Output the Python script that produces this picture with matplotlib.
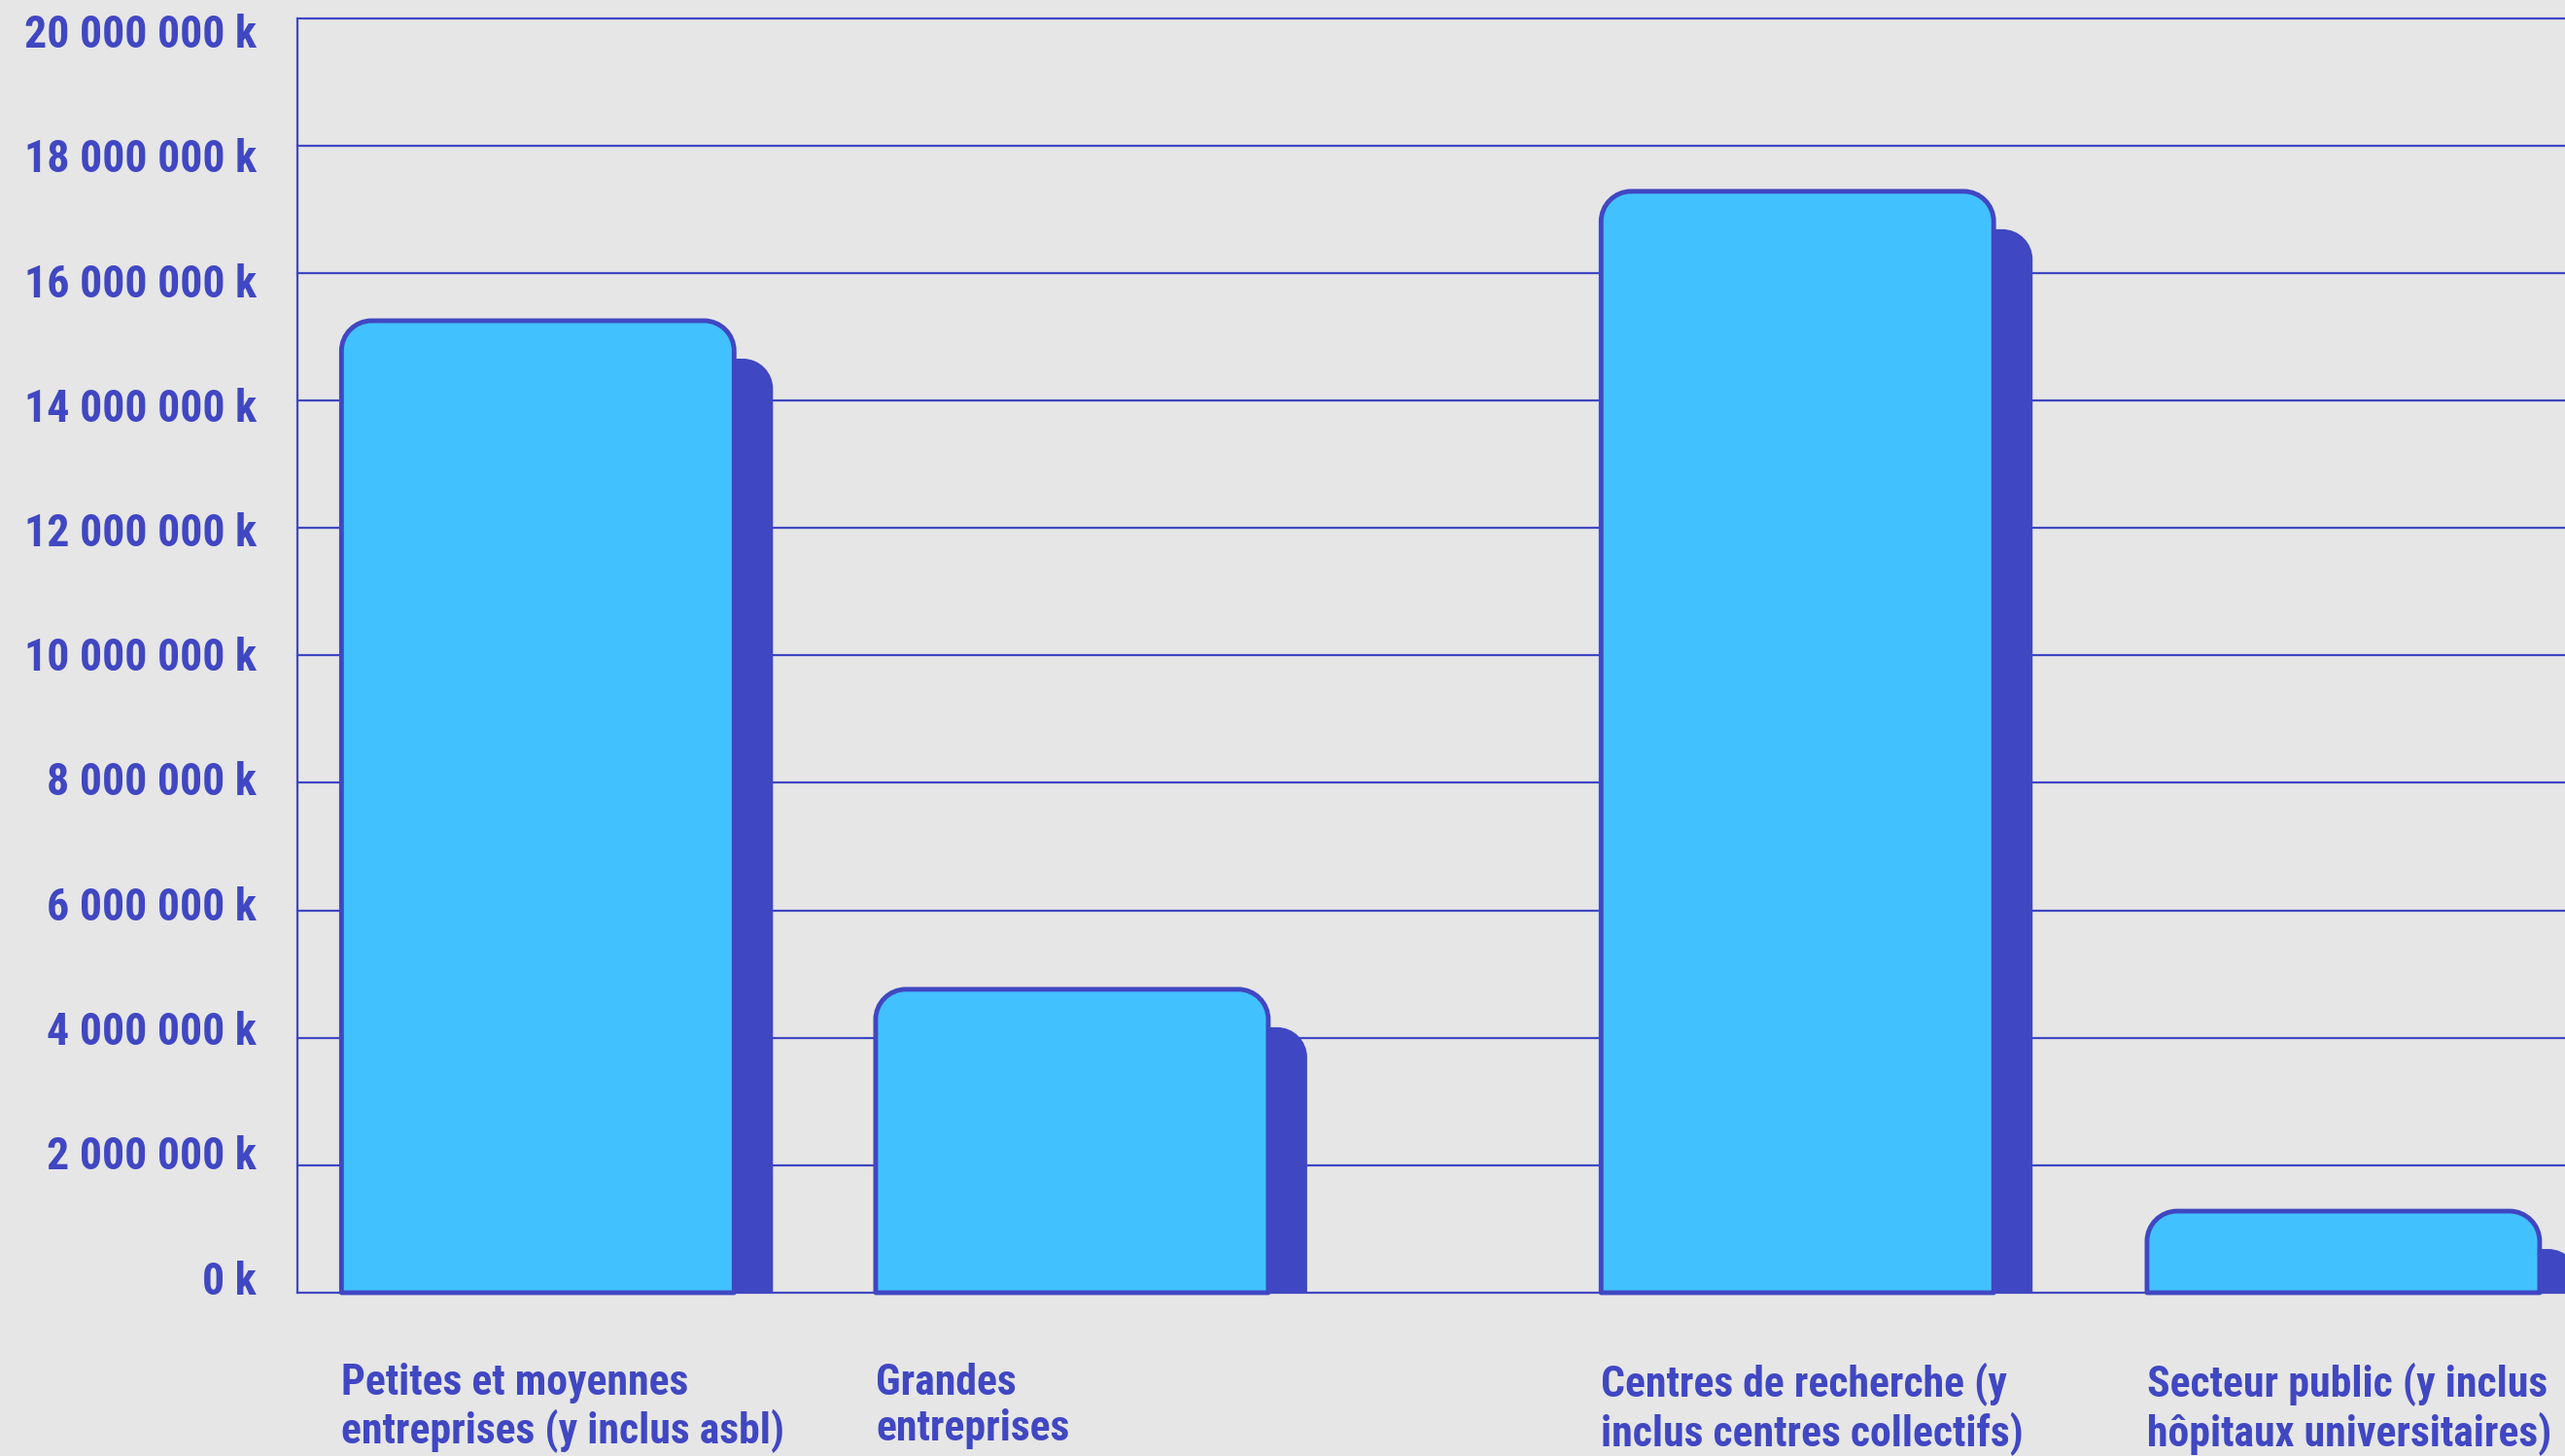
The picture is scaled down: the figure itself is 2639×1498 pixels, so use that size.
import matplotlib
matplotlib.use("Agg")
import matplotlib.pyplot as plt
from matplotlib.path import Path
from matplotlib.patches import PathPatch
from matplotlib.ticker import FixedLocator, NullFormatter
import matplotlib.transforms as mtransforms

# ---- data ----
categories = [
    "Petites et moyennes\nentreprises (y inclus asbl)",
    "Grandes\nentreprises",
    "Centres de recherche (y\ninclus centres collectifs)",
    "Secteur public (y inclus\nhôpitaux universitaires)",
]
values = [15250000, 4760000, 17280000, 1280000]
y_ticks = [0, 2000000, 4000000, 6000000, 8000000, 10000000,
           12000000, 14000000, 16000000, 18000000, 20000000]

# ---- layout / style ----
x_pos = [0.0, 1.0, 2.358, 3.38]
bar_w = 0.735
BG = "#E6E6E6"
FILL = "#42C1FF"
DARK = "#4047C2"
FONT = ["Roboto Condensed", "DejaVu Sans"]

W, H, DPI = 2639, 1498, 100
fig = plt.figure(figsize=(W / DPI, H / DPI), dpi=DPI, facecolor=BG)
ax = fig.add_axes([306 / W, 1 - 1330 / H, 1 - 306 / W, (1330 - 18.5) / H])
ax.set_facecolor(BG)
ax.set_xlim(-0.45, 3.795)
ax.set_ylim(0, 20000000)

for s in ["top", "right", "bottom"]:
    ax.spines[s].set_visible(False)
ax.spines["left"].set_color(DARK)
ax.spines["left"].set_linewidth(1.6)

ax.yaxis.set_major_locator(FixedLocator(y_ticks))
ax.yaxis.set_major_formatter(NullFormatter())
ax.tick_params(axis="both", length=0, labelbottom=False)
ax.grid(axis="y", color=DARK, linewidth=1.6, zorder=0)
ax.set_axisbelow(True)
for gl in ax.get_ygridlines():
    gl.set_clip_on(False)

# pixel -> data conversions
bbox = ax.get_position()
ax_w_px = bbox.width * W
ax_h_px = bbox.height * H
px_x = (ax.get_xlim()[1] - ax.get_xlim()[0]) / ax_w_px
px_y = (ax.get_ylim()[1] - ax.get_ylim()[0]) / ax_h_px


def fmt(v):
    return "{:,}".format(int(round(v))).replace(",", " ") + " k"


# y tick labels (slightly compressed toward the middle, as in the original)
ytrans = mtransforms.blended_transform_factory(ax.transAxes, ax.transData)
ymid = (y_ticks[0] + y_ticks[-1]) / 2.0
for v in y_ticks:
    off_px = -3 - 14.5 * (v - ymid) / ymid
    ax.text(-42 / ax_w_px, v + off_px * px_y, fmt(v), transform=ytrans,
            ha="right", va="center", fontsize=33, fontweight="bold",
            color=DARK, family=FONT, clip_on=False)

R_PX = 31
SH_DX, SH_DY = 40, 39


def top_rounded(x0, x1, y0, y1, rx, ry):
    ry = min(ry, (y1 - y0))
    k = 0.5523
    verts = [
        (x0, y0), (x0, y1 - ry),
        (x0, y1 - ry + k * ry), (x0 + rx - k * rx, y1), (x0 + rx, y1),
        (x1 - rx, y1),
        (x1 - rx + k * rx, y1), (x1, y1 - ry + k * ry), (x1, y1 - ry),
        (x1, y0), (x0, y0),
    ]
    codes = [Path.MOVETO, Path.LINETO,
             Path.CURVE4, Path.CURVE4, Path.CURVE4,
             Path.LINETO,
             Path.CURVE4, Path.CURVE4, Path.CURVE4,
             Path.LINETO, Path.CLOSEPOLY]
    return Path(verts, codes)


rx = R_PX * px_x
ry = R_PX * px_y
for xc, v in zip(x_pos, values):
    x0, x1 = xc - bar_w / 2, xc + bar_w / 2
    sh = PathPatch(top_rounded(x0 + SH_DX * px_x, x1 + SH_DX * px_x, 0,
                               v - SH_DY * px_y, rx, ry),
                   facecolor=DARK, edgecolor="none", zorder=2)
    ax.add_patch(sh)
    bar = PathPatch(top_rounded(x0, x1, 0, v, rx, ry),
                    facecolor=FILL, edgecolor=DARK, linewidth=3.5, zorder=3,
                    clip_on=False, joinstyle="round")
    ax.add_patch(bar)

trans = mtransforms.blended_transform_factory(ax.transData, ax.transAxes)
for xc, lab in zip(x_pos, categories):
    ax.text(xc - bar_w / 2, -0.055, lab, transform=trans, ha="left", va="top",
            fontsize=31.5, fontweight="bold", color=DARK, family=FONT,
            linespacing=1.15)

fig.savefig("out.png", dpi=DPI, facecolor=BG)
